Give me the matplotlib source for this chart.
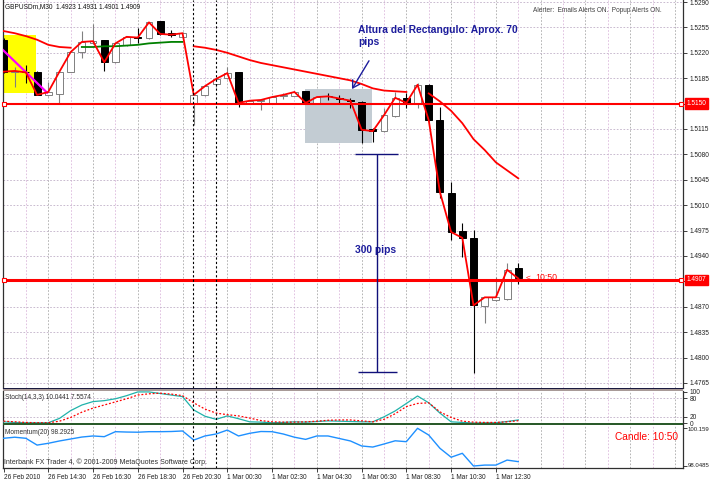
import matplotlib
matplotlib.use("Agg")
import matplotlib.pyplot as plt
import matplotlib.transforms as mtransforms
from matplotlib.patches import Rectangle
from matplotlib import font_manager

installed = {f.name for f in font_manager.fontManager.ttflist}
if "Liberation Sans Narrow" in installed:
    SMALL = ["Liberation Sans Narrow", "DejaVu Sans"]
    FS = 5.6
else:
    SMALL = ["Liberation Sans", "DejaVu Sans"]
    FS = 4.7
plt.rcParams["font.family"] = SMALL

# ---------------- data ----------------
time_labels = ["26 Feb 2010", "26 Feb 14:30", "26 Feb 16:30", "26 Feb 18:30",
               "26 Feb 20:30", "1 Mar 00:30", "1 Mar 02:30", "1 Mar 04:30",
               "1 Mar 06:30", "1 Mar 08:30", "1 Mar 10:30", "1 Mar 12:30"]
label_bars = [0, 4, 8, 12, 16, 20, 24, 28, 32, 36, 40, 44]

opens = [1.5238, 1.5194, 1.5194, 1.5194, 1.5162, 1.5163, 1.5194, 1.5221, 1.5233, 1.5238,
         1.5207, 1.5231, 1.5242, 1.5240, 1.5264, 1.5247, 1.5242, 1.5151, 1.5162, 1.5177,
         1.5185, 1.5194, 1.5151, 1.5154, 1.5151, 1.5161, 1.5161, 1.5167, 1.5151, 1.5161,
         1.5158, 1.5155, 1.5152, 1.5115, 1.5112, 1.5133, 1.5158, 1.5151, 1.5176, 1.5127,
         1.5027, 1.4974, 1.4965, 1.4871, 1.4879, 1.4881, 1.4923]
highs = [1.5240, 1.5200, 1.5203, 1.5195, 1.5180, 1.5195, 1.5222, 1.5250, 1.5260, 1.5238,
         1.5234, 1.5243, 1.5254, 1.5263, 1.5264, 1.5251, 1.5248, 1.5163, 1.5175, 1.5185,
         1.5200, 1.5194, 1.5155, 1.5157, 1.5160, 1.5165, 1.5167, 1.5168, 1.5160, 1.5165,
         1.5162, 1.5158, 1.5153, 1.5116, 1.5144, 1.5166, 1.5165, 1.5178, 1.5177, 1.5145,
         1.5042, 1.4985, 1.4976, 1.4884, 1.4911, 1.4930, 1.4931]
lows = [1.5192, 1.5173, 1.5178, 1.5162, 1.5161, 1.5149, 1.5193, 1.5213, 1.5233, 1.5195,
        1.5206, 1.5230, 1.5233, 1.5239, 1.5245, 1.5242, 1.5241, 1.5120, 1.5161, 1.5173,
        1.5184, 1.5145, 1.5150, 1.5141, 1.5150, 1.5157, 1.5160, 1.5150, 1.5150, 1.5155,
        1.5151, 1.5144, 1.5096, 1.5097, 1.5111, 1.5132, 1.5144, 1.5144, 1.5126, 1.5020,
        1.4962, 1.4939, 1.4779, 1.4848, 1.4878, 1.4880, 1.4901]
closes = [1.5194, 1.5195, 1.5193, 1.5162, 1.5166, 1.5194, 1.5221, 1.5235, 1.5236, 1.5207,
          1.5233, 1.5242, 1.5241, 1.5262, 1.5246, 1.5245, 1.5247, 1.5162, 1.5174, 1.5184,
          1.5192, 1.5151, 1.5154, 1.5155, 1.5159, 1.5162, 1.5166, 1.5151, 1.5159, 1.5160,
          1.5157, 1.5154, 1.5114, 1.5112, 1.5134, 1.5158, 1.5151, 1.5176, 1.5127, 1.5028,
          1.4973, 1.4965, 1.4872, 1.4883, 1.4883, 1.4921, 1.4909]

N = None
ma_down = [1.5250, 1.5247, 1.5243, 1.5238, 1.5231, 1.5228, 1.5227, N, N, N,
           N, N, N, N, N, N, N, 1.5229, 1.5227, 1.5224,
           1.5220, 1.5215, 1.5210, 1.5206, 1.5203, 1.5200, 1.5197, 1.5194, 1.5191, 1.5188,
           1.5185, 1.5182, 1.5177, 1.5171, 1.5168, 1.5167, 1.5166, N, 1.5164, 1.5153,
           1.5140, 1.5123, 1.5101, 1.5086, 1.5069, 1.5058, 1.5047]
ma_up = [N, N, N, N, N, N, N, 1.5228, 1.5228, 1.5229,
         1.5229, 1.5230, 1.5231, 1.5233, 1.5234, 1.5235, 1.5235, N, N, N,
         N, N, N, N, N, N, N, N, N, N,
         N, N, N, N, N, N, N, N, N, N,
         N, N, N, N, N, N, N]

stoch_main = [4, 2, 1, 1, 1, 15, 40, 58, 69, 72, 78, 88, 100, 100, 95, 90, 85, 42, 22, 12,
              23, 14, 4, 3, 1, 2, 4, 3, 5, 7, 6, 5, 4, 4, 20, 39, 63, 87, 65, 32,
              4, 2, 0, 1, 1, 5, 10.0441]
stoch_signal = [6, 4, 2, 1, 1, 6, 18, 35, 48, 58, 68, 78, 90, 94, 96, 93, 88, 65, 45, 32,
                27, 23, 16, 8, 4, 3, 3, 4, 6, 9, 10, 10, 7, 4, 12, 30, 53, 63, 65, 36,
                18, 6, 3, 2, 2, 4, 7.5574]
momentum = [99.60, 99.66, 99.60, 99.22, 99.32, 99.45, 99.56, 99.67, 99.73, 99.69,
            99.97, 99.95, 99.94, 99.97, 99.97, 99.98, 100.01, 99.50, 99.73, 99.84,
            100.06, 99.73, 99.88, 99.98, 99.97, 99.84, 99.66, 99.54, 99.73, 99.73,
            99.59, 99.45, 99.17, 99.11, 99.28, 99.46, 99.41, 100.159, 99.78, 99.04,
            98.54, 98.76, 98.0485, 98.10, 98.10, 98.38, 98.2925]

price_ticks = [1.4765, 1.4800, 1.4835, 1.4870, 1.4905, 1.4940, 1.4975, 1.5010,
               1.5045, 1.5080, 1.5115, 1.5150, 1.5185, 1.5220, 1.5255, 1.5290]
hidden_ticks = [1.4905, 1.5150]
level_lines = [1.5150, 1.4907]
trend_line = ([-0.13, 3.9], [1.5225, 1.5165])
yellow_box = (-0.13, 2.9, 1.5165, 1.5245)
gray_box = (26.9, 32.9, 1.5096, 1.5170)
measure = dict(x=33.35, top=1.5080, bottom=1.4780, top_cap=(31.41, 35.25), bot_cap=(31.68, 35.16))
sep_bars = [16.9, 18.95]

# ---------------- figure ----------------
W, H = 710, 480
fig = plt.figure(figsize=(W / 100, H / 100), dpi=100)
fig.patch.set_facecolor("white")


def px_box(l, t, r, b):
    return [l / W, 1 - b / H, (r - l) / W, (b - t) / H]


ax = fig.add_axes(px_box(3, 0, 683, 388))
axs = fig.add_axes(px_box(3, 391, 683, 424))
axm = fig.add_axes(px_box(3, 425, 683, 468))

XMIN, XMAX = -0.045, 60.72
AXC = "#303030"
for a in (ax, axs, axm):
    a.set_xlim(XMIN, XMAX)
    a.set_facecolor("white")
    a.spines["top"].set_visible(False)
    a.spines["bottom"].set_visible(False)
    a.spines["left"].set_color(AXC)
    a.spines["right"].set_color(AXC)
    a.spines["left"].set_linewidth(0.9)
    a.spines["right"].set_linewidth(0.9)
    a.yaxis.tick_right()
    a.tick_params(axis="y", direction="out", length=3, width=0.6, pad=1.5,
                  labelsize=FS, colors="#202020")
    a.tick_params(axis="x", bottom=False, labelbottom=False)
    for g in range(2, 61, 2):
        a.axvline(g, color="#a8a8a8" if g % 4 == 0 else "#dcb8dc", lw=0.6,
                  ls=(0, (2, 2)), zorder=0)
    for sx in sep_bars:
        a.axvline(sx, color="black", lw=0.8, ls=(0, (2, 2)), zorder=6)

# ---- main panel ----
ax.set_ylim(1.475809, 1.529276)
ax.set_yticks(price_ticks)
ax.set_yticklabels(["" if p in hidden_ticks else "%.4f" % p for p in price_ticks])
for p in price_ticks:
    ax.axhline(p, color="#c0b0c8", lw=0.6, ls=(0, (2, 2)), zorder=0)

ax.add_patch(Rectangle((yellow_box[0], yellow_box[2]), yellow_box[1] - yellow_box[0],
                       yellow_box[3] - yellow_box[2], facecolor="#ffff00", edgecolor="none", zorder=1))
ax.add_patch(Rectangle((gray_box[0], gray_box[2]), gray_box[1] - gray_box[0],
                       gray_box[3] - gray_box[2], facecolor="#c3ccd3", edgecolor="none", zorder=1))

xs = list(range(len(opens)))
for i in xs:
    o, h, l, c = opens[i], highs[i], lows[i], closes[i]
    bull = c >= o
    wick = "#808080" if bull else "black"
    ax.vlines(i, l, h, color=wick, lw=0.8, zorder=2)
    bot = min(o, c)
    hgt = max(abs(c - o), 0.00002)
    ax.bar(i, hgt, bottom=bot, width=0.62, color="white" if bull else "black",
           edgecolor="#808080" if bull else "black", linewidth=0.7, zorder=3)

ax.plot(trend_line[0], trend_line[1], color="#ff00ff", lw=1.6, zorder=4)
ax.plot(xs, [v if v is not None else float("nan") for v in ma_down], color="#ff0000", lw=1.3, zorder=4)
ax.plot(xs, [v if v is not None else float("nan") for v in ma_up], color="#008000", lw=1.3, zorder=4)
ax.plot(xs, closes, color="#ff0000", lw=1.3, zorder=5)

ax.axhline(level_lines[0], color="#ff0000", lw=1.5, zorder=5)
ax.axhline(level_lines[1], color="#ff0000", lw=2.2, zorder=5)
for lv in level_lines:
    ax.plot([0.05, 60.55], [lv, lv], ls="none", marker="s", ms=3.2, mfc="white", mec="#ff0000",
            mew=0.8, zorder=6, clip_on=False)
blend = mtransforms.blended_transform_factory(ax.transAxes, ax.transData)
for lv in level_lines:
    ax.text(1.005, lv, "%.4f" % lv, transform=blend, ha="left", va="center", fontsize=FS,
            color="white", zorder=10, clip_on=False,
            bbox=dict(boxstyle="square,pad=0.25", facecolor="#ff0000", edgecolor="#ff0000"))

# annotations
BLUE = "#1c1c9c"
ax.text(31.68, 1.52466, "Altura del Rectangulo: Aprox. 70", fontsize=7.4, fontweight="bold",
        color=BLUE, family=["Liberation Sans", "DejaVu Sans"], va="baseline", zorder=8)
ax.text(31.68, 1.52307, "pips", fontsize=7.4, fontweight="bold",
        color=BLUE, family=["Liberation Sans", "DejaVu Sans"], va="baseline", zorder=8)
ax.annotate("", xy=(31.14, 1.5170), xytext=(32.66, 1.5209),
            arrowprops=dict(arrowstyle="->,head_length=0.5,head_width=0.3", color=BLUE, lw=1.0,
                            shrinkA=0, shrinkB=0), zorder=8)
ax.text(31.41, 1.49483, "300 pips", fontsize=7.4, fontweight="bold", color=BLUE,
        family=["Liberation Sans", "DejaVu Sans"], va="center", zorder=8)
MC = "#10107a"
ax.vlines(measure["x"], measure["bottom"], measure["top"], color=MC, lw=1.0, zorder=8)
ax.hlines(measure["top"], *measure["top_cap"], color=MC, lw=1.0, zorder=8)
ax.hlines(measure["bottom"], *measure["bot_cap"], color=MC, lw=1.0, zorder=8)

ax.text(46.7, 1.4910, "<", fontsize=6, color="#ff0000", va="center", zorder=8,
        family=["Liberation Sans", "DejaVu Sans"])
ax.text(47.5, 1.4910, "10:50", fontsize=6.3, color="#ff0000", va="center", zorder=8,
        family=["Liberation Sans", "DejaVu Sans"])

# ---- stochastic ----
axs.set_ylim(-3, 103)
axs.set_yticks([0, 20, 80, 100])
axs.set_yticklabels(["0", "20", "80", "100"])
for lv in (20, 80):
    axs.axhline(lv, color="#c0b0c8", lw=0.6, ls=(0, (2, 2)), zorder=0)
axs.plot(xs, stoch_main, color="#20b2aa", lw=0.9, zorder=3)
axs.plot(xs, stoch_signal, color="#ff0000", lw=0.9, ls=(0, (1.5, 1.5)), zorder=3)
axs.text(0.003, 0.80, "Stoch(14,3,3) 10.0441 7.5574", transform=axs.transAxes, fontsize=FS,
         color="#303030", va="center")

# ---- momentum ----
mom_ticks = [98.0485, 100.159]
axm.set_ylim(97.937, 100.344)
axm.set_yticks(mom_ticks)
axm.set_yticklabels(["", ""])
mblend = mtransforms.blended_transform_factory(axm.transAxes, axm.transData)
axm.text(1.0065, 100.10, "100.159", transform=mblend, fontsize=FS * 0.92, color="#202020",
         ha="left", va="center", clip_on=False)
axm.text(1.0065, 98.10, "98.0485", transform=mblend, fontsize=FS * 0.92, color="#202020",
         ha="left", va="center", clip_on=False)
axm.plot(xs, momentum, color="#1e90ff", lw=1.0, zorder=3)
axm.text(0.003, 0.83, "Momentum(20) 98.2925", transform=axm.transAxes, fontsize=FS,
         color="#303030", va="center")
axm.text(0.002, 0.14, "Interbank FX Trader 4, \u00a9 2001-2009 MetaQuotes Software Corp.",
         transform=axm.transAxes, fontsize=FS * 1.08, color="#303030", va="center")
axm.spines["bottom"].set_visible(True)
axm.spines["bottom"].set_color(AXC)
axm.spines["bottom"].set_linewidth(0.9)
axm.set_xticks(label_bars)
axm.set_xticklabels(time_labels)
axm.tick_params(axis="x", bottom=True, labelbottom=True, direction="out", length=3, width=0.6,
                pad=1.5, labelsize=FS, colors="#202020")
for lbl in axm.get_xticklabels():
    lbl.set_horizontalalignment("left")

# separators between sub-windows
fig.add_artist(Rectangle((3 / W, 1 - 391 / H), 680 / W, 3 / H, transform=fig.transFigure,
                         facecolor="#a89a98", edgecolor="none"))
fig.add_artist(Rectangle((3 / W, 1 - 389 / H), 680 / W, 1 / H, transform=fig.transFigure,
                         facecolor="#1a1a40", edgecolor="none"))
fig.add_artist(Rectangle((3 / W, 1 - 425 / H), 680 / W, 2 / H, transform=fig.transFigure,
                         facecolor="#2a5a2a", edgecolor="none"))

# header texts
fig.text(5 / W, 1 - 7 / H, "GBPUSDm,M30  1.4923 1.4931 1.4901 1.4909", fontsize=FS,
         color="#101010", va="center", ha="left")
fig.text(533 / W, 1 - 10 / H, "Alerter:  Emails Alerts ON.  Popup Alerts ON.", fontsize=FS,
         color="#404040", va="center", ha="left")
fig.text(678 / W, 1 - 437 / H, "Candle: 10:50", fontsize=7.3, color="#ff0000", va="center",
         ha="right", family=["Liberation Sans", "DejaVu Sans"])

fig.savefig("out.png", dpi=100, facecolor="white")
